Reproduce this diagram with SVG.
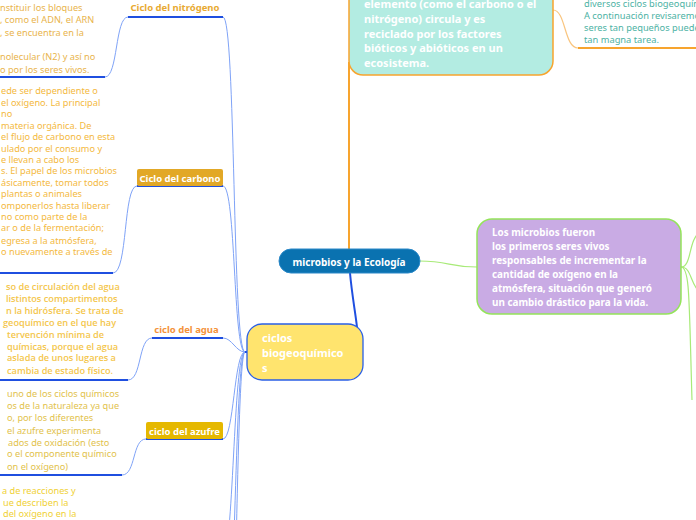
<svg xmlns="http://www.w3.org/2000/svg" width="696" height="520" viewBox="0 0 696 520">
<style>
text{font-family:"Noto Sans","Open Sans","DejaVu Sans",sans-serif}
.nodeText{font-weight:bold;fill:#ffffff}
.child{font-size:9.2px}
.semi{font-family:"Open Sans","Noto Sans",sans-serif;font-weight:600}
.title{font-size:9.5px;font-weight:bold}
.blueCurve{fill:none;stroke:#7fa3f7;stroke-width:1}
.blueLine{fill:none;stroke:#1f4fe0;stroke-width:2}
.green{fill:none;stroke:#a8ea78;stroke-width:1.2}
.orange{fill:none;stroke:#f7a42e;stroke-width:2}
.orangeSoft{fill:none;stroke:#f9c57f;stroke-width:1.2}
</style>
<rect width="696" height="520" fill="#ffffff"/>
<g id="connectors">
  <path class="orange" d="M349,249 L349,62"/>
  <path class="orangeSoft" d="M553,10 C566,10 564,48 578,48"/>
  <path class="orange" d="M578,48 L700,48"/>
  <path class="green" d="M419,261 C450,261 448,267 477,267"/>
  <path class="green" d="M681,267 C692,267 688,240 700,232"/>
  <path class="green" d="M681,267 C692,267 690,285 700,292"/>
  <path class="green" d="M681,267 C690,267 689,300 692,400"/>
  <path class="blueLine" d="M350,273 C352,295 355,310 357,327"/>
  <path class="blueLine" d="M248,352 L245,352"/>
  <path class="blueCurve" d="M245,352 C232,352 236,17 223,17"/>
  <path class="blueCurve" d="M245,352 C233,352 236,186 223,186"/>
  <path class="blueCurve" d="M245,352 C236,352 232,338 223,338"/>
  <path class="blueCurve" d="M245,352 C234,352 234,439 223,439"/>
  <path class="blueCurve" d="M245,352 C233,352 234,560 222,560"/>
  <path class="blueCurve" d="M245,352 C234,352 236,680 222,680"/>
  <path class="blueCurve" d="M245,352 C235,352 237,800 222,800"/>
  <path class="blueLine" d="M128,17 L223,17"/>
  <path class="blueCurve" d="M128,17 C115,17 118,77 105,77"/>
  <path class="blueLine" d="M-5,77 L105,77"/>
  <path class="blueLine" d="M137,186 L223,186"/>
  <path class="blueCurve" d="M137,186 C123,186 128,273 113,273"/>
  <path class="blueLine" d="M-5,273 L113,273"/>
  <path class="blueLine" d="M152,338 L223,338"/>
  <path class="blueCurve" d="M152,338 C138,338 142,380 128,380"/>
  <path class="blueLine" d="M-5,380 L128,380"/>
  <path class="blueLine" d="M146,439 L223,439"/>
  <path class="blueCurve" d="M146,439 C132,439 136,475 122,475"/>
  <path class="blueLine" d="M-5,475 L122,475"/>
</g>
<g id="node-central">
  <rect x="279" y="249" width="141" height="24" rx="12" fill="#0a72b0" stroke="#2a88c8" stroke-width="1"/>
  <text class="nodeText" x="349" y="265.5" font-size="10" text-anchor="middle">microbios y la Ecología</text>
</g>
<g id="node-definicion">
  <rect x="349" y="-30" width="204" height="105" rx="14" fill="#b3ece2" stroke="#f7a42e" stroke-width="1.5"/>
  <text class="nodeText" font-size="11" x="364">
    <tspan x="364" y="8">elemento (como el carbono o el</tspan>
    <tspan x="364" y="22.5">nitrógeno) circula y es</tspan>
    <tspan x="364" y="37.5">reciclado por los factores</tspan>
    <tspan x="364" y="52">bióticos y abióticos en un</tspan>
    <tspan x="364" y="67">ecosistema.</tspan>
  </text>
</g>
<g id="node-intro">
  <text font-size="9.3" fill="#4cb2a4">
    <tspan x="584" y="6.5">diversos ciclos biogeoquímicos.</tspan>
    <tspan x="584" y="18.5">A continuación revisaremos cómo</tspan>
    <tspan x="584" y="30.5">seres tan pequeños pueden</tspan>
    <tspan x="584" y="43">tan magna tarea.</tspan>
  </text>
</g>
<g id="node-microbios">
  <rect x="477" y="219" width="204" height="95" rx="15" fill="#c9abe4" stroke="#94e45a" stroke-width="1.5"/>
  <text class="nodeText" font-size="9.9">
    <tspan x="492" y="236">Los microbios fueron</tspan>
    <tspan x="492" y="250">los primeros seres vivos</tspan>
    <tspan x="492" y="264">responsables de incrementar la</tspan>
    <tspan x="492" y="278">cantidad de oxígeno en la</tspan>
    <tspan x="492" y="292">atmósfera, situación que generó</tspan>
    <tspan x="492" y="306">un cambio drástico para la vida.</tspan>
  </text>
</g>
<g id="node-ciclos">
  <rect x="247" y="324" width="116" height="56" rx="15" fill="#ffe46e" stroke="#2a5fe6" stroke-width="1.3"/>
  <text class="nodeText" font-size="11">
    <tspan x="262" y="342">ciclos</tspan>
    <tspan x="262" y="357">biogeoquímico</tspan>
    <tspan x="262" y="372">s</tspan>
  </text>
</g>
<g id="node-nitrogeno">
  <text class="title" x="175" y="11" text-anchor="middle" fill="#e8aa32">Ciclo del nitrógeno</text>
</g>
<g id="node-nitrogeno-texto">
  <text class="child" fill="#e9b44c">
    <tspan x="0" y="10.5">nstituir los bloques</tspan>
    <tspan x="0" y="23">, como el ADN, el ARN</tspan>
    <tspan x="0" y="35.5">, se encuentra en la</tspan>
    <tspan x="0" y="60">nolecular (N2) y así no</tspan>
    <tspan x="0" y="72.5">o por los seres vivos.</tspan>
  </text>
</g>
<g id="node-carbono">
  <rect x="137" y="169" width="86" height="17" rx="2" fill="#e2a826"/>
  <text class="title" x="180" y="181.5" text-anchor="middle" fill="#ffffff">Ciclo del carbono</text>
</g>
<g id="node-carbono-texto">
  <text class="child" fill="#f4b93e">
    <tspan x="1" y="94">ede ser dependiente o</tspan>
    <tspan x="1" y="106">el oxígeno. La principal</tspan>
    <tspan x="1" y="117">no</tspan>
    <tspan x="1" y="129">materia orgánica. De</tspan>
    <tspan x="1" y="140">el flujo de carbono en esta</tspan>
    <tspan x="1" y="152">ulado por el consumo y</tspan>
    <tspan x="1" y="163">e llevan a cabo los</tspan>
    <tspan x="1" y="174">s. El papel de los microbios</tspan>
    <tspan x="1" y="186">ásicamente, tomar todos</tspan>
    <tspan x="1" y="197">plantas o animales</tspan>
    <tspan x="1" y="209">omponerlos hasta liberar</tspan>
    <tspan x="1" y="220">no como parte de la</tspan>
    <tspan x="1" y="231">ar o de la fermentación;</tspan>
    <tspan x="1" y="244">egresa a la atmósfera,</tspan>
    <tspan x="1" y="255">o nuevamente a través de</tspan>
  </text>
</g>
<g id="node-agua">
  <text class="title" x="186.5" y="332.5" text-anchor="middle" fill="#f4923a">ciclo del agua</text>
</g>
<g id="node-agua-texto">
  <text class="child semi" fill="#f4c64c">
    <tspan x="6" y="290">so de circulación del agua</tspan>
    <tspan x="6" y="302">listintos compartimentos</tspan>
    <tspan x="6" y="314">n la hidrósfera. Se trata de</tspan>
    <tspan x="3" y="326">geoquímico en el que hay</tspan>
    <tspan x="7" y="338">tervención mínima de</tspan>
    <tspan x="7" y="350">químicas, porque el agua</tspan>
    <tspan x="7" y="361">aslada de unos lugares a</tspan>
    <tspan x="7" y="374">cambia de estado físico.</tspan>
  </text>
</g>
<g id="node-azufre">
  <rect x="146" y="422" width="77" height="17" rx="2" fill="#e5b800"/>
  <text class="title" x="184.5" y="434.5" text-anchor="middle" fill="#ffffff">ciclo del azufre</text>
</g>
<g id="node-azufre-texto">
  <text class="child" fill="#e2c24c">
    <tspan x="7" y="397">uno de los ciclos químicos</tspan>
    <tspan x="7" y="409">os de la naturaleza ya que</tspan>
    <tspan x="7" y="421">o, por los diferentes</tspan>
    <tspan x="7" y="434">el azufre experimenta</tspan>
    <tspan x="8" y="446">ados de oxidación (esto</tspan>
    <tspan x="7" y="457">o el componente químico</tspan>
    <tspan x="7" y="470">on el oxígeno)</tspan>
  </text>
</g>
<g id="node-oxigeno-texto">
  <text class="child" fill="#f0d136">
    <tspan x="2" y="494">a de reacciones y</tspan>
    <tspan x="3" y="506">ue describen la</tspan>
    <tspan x="3" y="517">del oxígeno en la</tspan>
  </text>
</g>
</svg>
